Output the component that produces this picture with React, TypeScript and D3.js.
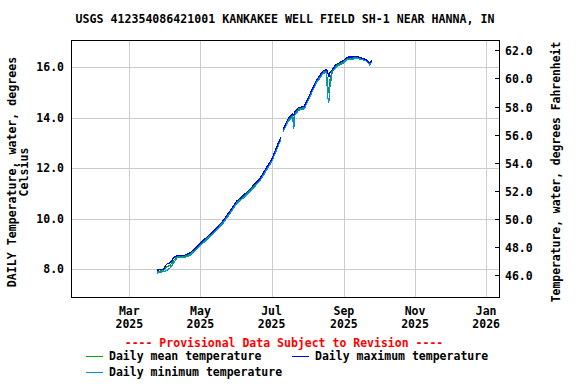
import React from 'react';
import * as d3 from 'd3';

// daily values (deg C), null = missing day
const dates = [
  '2025-03-25', '2025-03-30', '2025-04-02', '2025-04-05', '2025-04-08', '2025-04-11',
  '2025-04-17', '2025-04-22', '2025-04-27', '2025-05-01', '2025-05-06', '2025-05-13',
  '2025-05-20', '2025-05-27', '2025-06-01', '2025-06-05', '2025-06-12', '2025-06-21',
  '2025-07-01', '2025-07-09', '2025-07-10', '2025-07-11', '2025-07-15', '2025-07-19',
  '2025-07-20', '2025-07-21', '2025-07-24', '2025-07-29', '2025-08-03', '2025-08-08',
  '2025-08-14', '2025-08-17', '2025-08-18', '2025-08-19', '2025-08-20', '2025-08-22',
  '2025-08-25', '2025-08-31', '2025-09-04', '2025-09-13', '2025-09-20', '2025-09-23',
  '2025-09-25',
];
const meanTemp = [
  7.9, 7.95, 8.1, 8.15, 8.35, 8.5, 8.5, 8.6, 8.8, 9.0, 9.2, 9.5,
  9.85, 10.3, 10.65, 10.8, 11.1, 11.55, 12.3, 13.2, null, 13.5, 13.9, 14.1,
  13.8, 14.2, 14.35, 14.4, 14.9, 15.4, 15.8, 15.85, 15.3, 15.0, 15.5, 15.85,
  16.05, 16.2, 16.35, 16.38, 16.27, 16.15, 16.23,
];
const maxTemp = [
  7.97, 7.98, 8.2, 8.25, 8.45, 8.55, 8.55, 8.65, 8.85, 9.05, 9.25, 9.55,
  9.9, 10.35, 10.7, 10.85, 11.15, 11.6, 12.35, 13.25, null, 13.55, 13.95, 14.15,
  14.1, 14.25, 14.4, 14.45, 14.95, 15.45, 15.85, 15.9, 15.85, 15.6, 15.8, 15.9,
  16.1, 16.25, 16.4, 16.42, 16.3, 16.18, 16.27,
];
const minTemp = [
  7.85, 7.9, 7.95, 8.05, 8.25, 8.45, 8.45, 8.55, 8.75, 8.95, 9.15, 9.45,
  9.8, 10.25, 10.6, 10.75, 11.05, 11.5, 12.25, 13.15, null, 13.45, 13.85, 14.05,
  13.55, 14.1, 14.3, 14.35, 14.85, 15.35, 15.75, 15.8, 14.9, 14.57, 15.2, 15.8,
  16.0, 16.15, 16.3, 16.35, 16.25, 16.1, 16.2,
];

const celsiusTicks = [8, 10, 12, 14, 16];
const fahrenheitTicks = [46, 48, 50, 52, 54, 56, 58, 60, 62];
const monthTicks = ['2025-03-01', '2025-05-01', '2025-07-01', '2025-09-01', '2025-11-01', '2026-01-01'];
const monthNames = ['Jan', 'Feb', 'Mar', 'Apr', 'May', 'Jun', 'Jul', 'Aug', 'Sep', 'Oct', 'Nov', 'Dec'];

const title = 'USGS 412354086421001 KANKAKEE WELL FIELD SH-1 NEAR HANNA, IN';

const FONT = '"DejaVu Sans Mono", monospace';

export default function App() {
  const width = 576;
  const height = 384;
  const left = 71, right = 499, top = 40, bottom = 297;

  const x = d3.scaleUtc()
    .domain([new Date(Date.UTC(2025, 0, 10)), new Date(Date.UTC(2026, 0, 12))])
    .range([left, right]);
  const y = d3.scaleLinear().domain([6.9, 17.08]).range([bottom, top]);
  const toC = (f: number) => (f - 32) * 5 / 9;

  const parsed = dates.map(d => new Date(d + 'T00:00:00Z'));

  const makeLine = (vals: (number | null)[]) => {
    const pts = parsed.map((d, i) => ({ d, v: vals[i] }));
    return d3.line<{ d: Date; v: number | null }>()
      .defined(p => p.v !== null)
      .x(p => x(p.d))
      .y(p => y(p.v as number))(pts) || '';
  };

  const series = [
    { name: 'Daily mean temperature', vals: meanTemp, color: '#00a800' },
    { name: 'Daily minimum temperature', vals: minTemp, color: '#0090e0' },
    { name: 'Daily maximum temperature', vals: maxTemp, color: '#0000ff' },
  ];

  const legend = [
    { name: 'Daily mean temperature', color: '#00a800', lx: 86, ly: 356 },
    { name: 'Daily maximum temperature', color: '#0000ff', lx: 292, ly: 356 },
    { name: 'Daily minimum temperature', color: '#0090e0', lx: 86, ly: 372 },
  ];

  const midY = 172;

  return (
    <svg width={width} height={height} style={{ position: 'absolute', left: 0, top: 0, background: 'white' }}
      fontFamily={FONT} fontWeight="bold" fontSize={11.5}>
      <text x={285} y={23} textAnchor="middle" fontSize={11.6}>{title}</text>

      {/* grid */}
      {celsiusTicks.map(t => (
        <line key={'gy' + t} x1={left} x2={right} y1={Math.round(y(t)) + 0.5} y2={Math.round(y(t)) + 0.5}
          stroke="#cccccc" strokeWidth={1} />
      ))}
      {monthTicks.map(m => {
        const xx = Math.round(x(new Date(m + 'T00:00:00Z'))) + 0.5;
        return <line key={'gx' + m} x1={xx} x2={xx} y1={top} y2={bottom} stroke="#cccccc" strokeWidth={1} />;
      })}

      {/* series */}
      {series.map(s => (
        <path key={s.name} d={makeLine(s.vals)} fill="none" stroke={s.color} strokeWidth={1.2}
          shapeRendering="crispEdges" />
      ))}

      {/* frame */}
      <rect x={left + 0.5} y={top + 0.5} width={right - left} height={bottom - top} fill="none" stroke="black" strokeWidth={1} />

      {/* left axis labels */}
      {celsiusTicks.map(t => (
        <text key={'ly' + t} x={64} y={y(t) + 4} textAnchor="end">{t.toFixed(1)}</text>
      ))}

      {/* right axis */}
      {fahrenheitTicks.map(f => {
        const yy = Math.round(y(toC(f))) + 0.5;
        return (
          <g key={'ry' + f}>
            <line x1={right - 4} x2={right} y1={yy} y2={yy} stroke="black" />
            <text x={505} y={yy + 4}>{f.toFixed(1)}</text>
          </g>
        );
      })}

      {/* x axis labels */}
      {monthTicks.map(m => {
        const d = new Date(m + 'T00:00:00Z');
        const xx = x(d);
        return (
          <g key={'xl' + m}>
            <text x={xx} y={315} textAnchor="middle">{monthNames[d.getUTCMonth()]}</text>
            <text x={xx} y={328} textAnchor="middle">{d.getUTCFullYear()}</text>
          </g>
        );
      })}

      {/* axis titles */}
      <text transform={`translate(16,${midY}) rotate(-90)`} textAnchor="middle" fontSize={11.6}>
        DAILY Temperature, water, degrees
      </text>
      <text transform={`translate(28,${midY}) rotate(-90)`} textAnchor="middle" fontSize={11.6}>
        Celsius
      </text>
      <text transform={`translate(560,${midY}) rotate(-90)`} textAnchor="middle" fontSize={11.4}>
        Temperature, water, degrees Fahrenheit
      </text>

      {/* legend */}
      <text x={284} y={347} textAnchor="middle" fill="red">---- Provisional Data Subject to Revision ----</text>
      {legend.map(l => (
        <g key={l.name}>
          <line x1={l.lx} x2={l.lx + 17} y1={l.ly + 0.5} y2={l.ly + 0.5} stroke={l.color} strokeWidth={1} />
          <text x={l.lx + 23} y={l.ly + 4}>{l.name}</text>
        </g>
      ))}
    </svg>
  );
}
